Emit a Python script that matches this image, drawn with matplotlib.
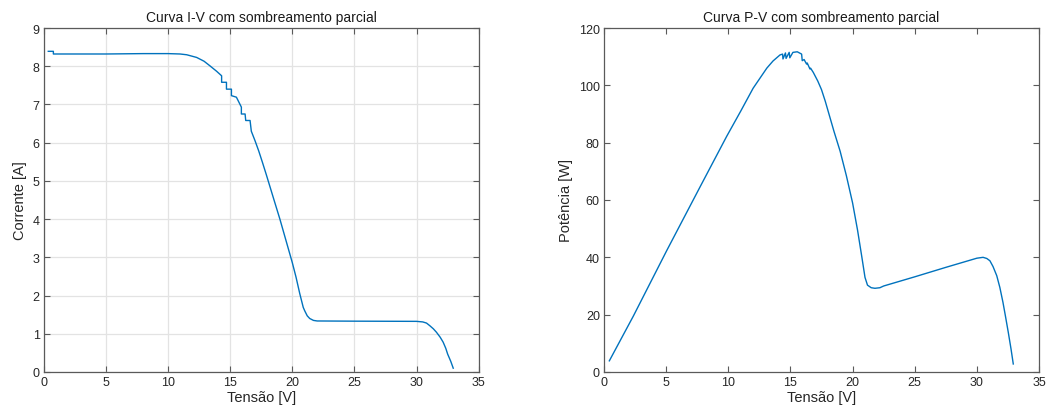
import matplotlib
matplotlib.use("Agg")
import matplotlib.pyplot as plt

plt.rcParams['font.family'] = ['Liberation Sans', 'DejaVu Sans']

# I-V curve (partial shading)
iv_voltage = [0.36, 0.77, 0.77, 2.0, 5.0, 8.0, 10.0, 10.96, 11.5, 12.3, 12.9, 13.37, 13.9,
              14.31, 14.31, 14.7, 14.7, 15.1, 15.1, 15.5, 15.9, 15.9, 16.2, 16.25, 16.6,
              16.7, 17.0, 17.3, 17.6, 17.9, 18.2, 18.5, 19.0, 19.5, 20.0, 20.3, 20.6,
              20.88, 21.0, 21.2, 21.4, 21.7, 22.0, 25.0, 30.0, 30.5, 30.8, 31.07, 31.35,
              31.6, 31.9, 32.14, 32.35, 32.5, 32.75, 32.95]
iv_current = [8.39, 8.39, 8.32, 8.32, 8.32, 8.33, 8.33, 8.32, 8.30, 8.23, 8.13, 8.01, 7.87,
              7.75, 7.58, 7.58, 7.40, 7.40, 7.23, 7.19, 6.93, 6.75, 6.75, 6.58, 6.58,
              6.30, 6.05, 5.78, 5.48, 5.17, 4.85, 4.53, 4.00, 3.43, 2.86, 2.48, 2.05,
              1.69, 1.60, 1.47, 1.40, 1.35, 1.335, 1.33, 1.325, 1.31, 1.28, 1.21, 1.13,
              1.04, 0.91, 0.78, 0.62, 0.47, 0.28, 0.10]

# P-V curve (partial shading)
pv_voltage = [0.43, 2.36, 5.04, 7.72, 9.87, 11.0, 12.0, 12.55, 13.1, 13.6, 14.16, 14.37,
              14.4, 14.6, 14.65, 14.9, 14.95, 15.2, 15.55, 15.9, 15.95, 16.1, 16.3, 16.35,
              16.57, 16.62, 16.84, 17.2, 17.5, 17.8, 18.1, 18.5, 19.0, 19.5, 20.0, 20.4,
              20.75, 21.0, 21.2, 21.5, 21.8, 22.2, 22.5, 25.0, 27.5, 30.0, 30.5, 30.8,
              31.05, 31.3, 31.6, 31.85, 32.1, 32.3, 32.53, 32.75, 32.93]
pv_power = [3.9, 19.5, 42.3, 64.5, 82.2, 91.0, 99.0, 102.5, 106.0, 108.5, 110.6, 110.9,
            109.2, 111.3, 109.4, 111.5, 109.6, 111.5, 111.7, 110.9, 108.6, 109.0, 107.4,
            107.8, 105.7, 106.0, 104.5, 101.5, 98.5, 94.5, 90.0, 84.0, 77.0, 68.5, 59.0,
            49.5, 40.0, 33.0, 30.3, 29.4, 29.2, 29.4, 30.0, 33.2, 36.5, 39.7, 40.0, 39.6,
            38.8, 36.8, 33.6, 29.5, 24.3, 19.5, 13.8, 8.0, 2.8]

x_ticks = [0, 5, 10, 15, 20, 25, 30, 35]
iv_yticks = [0, 1, 2, 3, 4, 5, 6, 7, 8, 9]
pv_yticks = [0, 20, 40, 60, 80, 100, 120]

titles = ["Curva I-V com sombreamento parcial", "Curva P-V com sombreamento parcial"]
xlabel = "Tensão [V]"
ylabels = ["Corrente [A]", "Potência [W]"]

W, H = 1051, 414
fig = plt.figure(figsize=(W / 100, H / 100), dpi=100)

def rect(x0, x1, ytop, ybot):
    return [x0 / W, 1 - ybot / H, (x1 - x0) / W, (ybot - ytop) / H]

ax1 = fig.add_axes(rect(43.8, 478.7, 29, 373))
ax2 = fig.add_axes(rect(604, 1039, 29, 373))

line_color = '#0072BD'
edge = '#5a5a5a'

for ax, xs, ys, yt, ttl, yl, grid in [
    (ax1, iv_voltage, iv_current, iv_yticks, titles[0], ylabels[0], True),
    (ax2, pv_voltage, pv_power, pv_yticks, titles[1], ylabels[1], False),
]:
    ax.plot(xs, ys, color=line_color, lw=1.0)
    ax.set_xlim(0, 35)
    ax.set_ylim(yt[0], yt[-1])
    ax.set_xticks(x_ticks)
    ax.set_yticks(yt)
    ax.tick_params(direction='in', top=True, right=True, length=4, width=0.8,
                   color=edge, labelsize=9, labelcolor='#262626', pad=3)
    for s in ax.spines.values():
        s.set_color(edge)
        s.set_linewidth(0.9)
    if grid:
        ax.grid(True, color='#e3e3e3', lw=0.9)
        ax.set_axisbelow(True)
    ax.set_title(ttl, fontsize=10, color='#1a1a1a', pad=5)
    ax.set_xlabel(xlabel, fontsize=10.5, color='#262626', labelpad=1)
    ax.set_ylabel(yl, fontsize=10.5, color='#262626', labelpad=4)

fig.savefig("out.png", dpi=100)
